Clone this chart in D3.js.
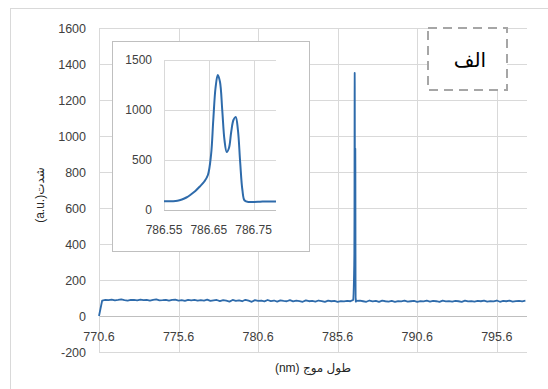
<!DOCTYPE html>
<html>
  <head>
    <meta charset="utf-8">
    <style>
      body {
        margin: 0;
        background: #fff;
      }
      text {
        font-family: "Liberation Sans", Arial, "DejaVu Sans", sans-serif;
        fill: #404040;
      }
    </style>
  </head>
  <body>
    <script src="https://d3js.org/d3.v7.min.js"></script>
    <script>
      var width = 548, height = 389;

      // main spectrum: baseline sampled every 0.2 nm from 770.6
      var baseStart = 770.6, baseStep = 0.2;
      var baseVals = [
        0, 86, 90, 88, 91, 87, 89, 92, 88, 86, 90, 89, 87, 91, 88, 90, 86, 89, 92, 87,
        88, 90, 85, 89, 91, 86, 88, 84, 90, 87, 89, 85, 88, 86, 91, 84, 87, 89, 83, 88,
        85, 80, 89, 84, 87, 82, 90, 85, 79, 88, 84, 86, 81, 89, 83, 86, 80, 87, 84, 82,
        88, 81, 85, 83, 79, 87, 82, 84, 80, 86, 83, 78, 85, 82, 84, 79, 83, 81, 84, 82,
        83, 80, 85, 82, 79, 86, 81, 84, 78, 85, 82, 80, 84, 79, 83, 81, 85, 80, 82, 84,
        79, 83, 81, 85, 80, 84, 82, 78, 85, 81, 83, 80, 84, 82, 79, 85, 81, 83, 80, 84,
        82, 85, 80, 83, 81, 86, 79, 84, 82, 85, 80, 83, 84, 81, 85
      ];

      // peak region (also shown in the inset)
      var peakWl = [
        786.55, 786.56, 786.57, 786.58, 786.59, 786.60, 786.61, 786.62, 786.63, 786.64,
        786.648, 786.655, 786.66, 786.665, 786.67, 786.675, 786.68, 786.685, 786.69, 786.695,
        786.70, 786.705, 786.71, 786.715, 786.72, 786.725, 786.73, 786.74, 786.75, 786.76,
        786.77, 786.78, 786.79, 786.80
      ];
      var peakVals = [
        88, 88, 88, 92, 105, 125, 155, 190, 235, 285,
        350, 550, 900, 1220, 1350, 1280, 1000, 700, 580, 620,
        780, 900, 930, 800, 480, 200, 95, 80, 80, 82,
        85, 86, 86, 84
      ];

      var mainYTicks = [-200, 0, 200, 400, 600, 800, 1000, 1200, 1400, 1600];
      var mainXTicks = [770.6, 775.6, 780.6, 785.6, 790.6, 795.6];
      var insetYTicks = [0, 500, 1000, 1500];
      var insetXTicks = [786.55, 786.65, 786.75];

      var lineColor = "#2e6bab", gridColor = "#d9d9d9", axisColor = "#bfbfbf";

      var mainData = [];
      baseVals.forEach(function(v, i){
        var wl = baseStart + baseStep * i;
        if (wl < peakWl[0] - 0.001 || wl > peakWl[peakWl.length - 1] + 0.001) mainData.push({ x: wl, y: v });
      });
      peakWl.forEach(function(w, i){ mainData.push({ x: w, y: peakVals[i] }); });
      mainData.sort(function(a, b){ return a.x - b.x; });

      var insetData = peakWl.map(function(w, i){ return { x: w, y: peakVals[i] }; });

      var svg = d3.select("body").append("svg")
          .attr("width", width)
          .attr("height", height);

      // chart border
      svg.append("rect")
          .attr("x", 10.5).attr("y", 8.5)
          .attr("width", 560).attr("height", 400)
          .attr("fill", "none")
          .attr("stroke", gridColor);

      // ---- main plot ----
      var x = d3.scaleLinear().domain([770.6, 797.5]).range([99, 527]);
      var y = d3.scaleLinear().domain([-200, 1600]).range([352, 28]);

      var main = svg.append("g");

      main.selectAll(".hgrid")
          .data(mainYTicks)
        .enter().append("line")
          .attr("x1", x.range()[0]).attr("x2", x.range()[1])
          .attr("y1", function(d){ return Math.round(y(d)) + .5; })
          .attr("y2", function(d){ return Math.round(y(d)) + .5; })
          .attr("stroke", function(d){ return d === 0 ? axisColor : gridColor; });

      main.selectAll(".vgrid")
          .data(mainXTicks)
        .enter().append("line")
          .attr("y1", y.range()[1]).attr("y2", y.range()[0])
          .attr("x1", function(d){ return Math.round(x(d)) + .5; })
          .attr("x2", function(d){ return Math.round(x(d)) + .5; })
          .attr("stroke", gridColor);

      main.selectAll(".ylab")
          .data(mainYTicks)
        .enter().append("text")
          .attr("x", 86)
          .attr("y", function(d){ return y(d); })
          .attr("dy", "0.36em")
          .attr("text-anchor", "end")
          .style("font-size", "12.5px")
          .text(function(d){ return d; });

      main.selectAll(".xlab")
          .data(mainXTicks)
        .enter().append("text")
          .attr("x", function(d){ return x(d); })
          .attr("y", 336)
          .attr("dy", "0.36em")
          .attr("text-anchor", "middle")
          .style("font-size", "12.5px")
          .text(function(d){ return d.toFixed(1); });

      var line = d3.line()
          .x(function(d){ return x(d.x); })
          .y(function(d){ return y(d.y); });

      main.append("path")
          .datum(mainData)
          .attr("d", line)
          .attr("fill", "none")
          .attr("stroke", lineColor)
          .attr("stroke-width", 1.8)
          .attr("stroke-linejoin", "round");

      svg.append("text")
          .attr("x", 313)
          .attr("y", 368)
          .attr("dy", "0.36em")
          .attr("text-anchor", "middle")
          .attr("direction", "rtl")
          .style("font-size", "12px")
          .style("fill", "#262626")
          .text("طول موج (nm)");

      svg.append("text")
          .attr("transform", "translate(40,195) rotate(-90)")
          .attr("dy", "0.36em")
          .attr("text-anchor", "middle")
          .style("font-size", "12px")
          .style("fill", "#262626")
          .text("(a.u.)شدت");

      // ---- inset ----
      svg.append("rect")
          .attr("x", 112.5).attr("y", 41.5)
          .attr("width", 197).attr("height", 210)
          .attr("fill", "#fff")
          .attr("stroke", axisColor);

      var ix = d3.scaleLinear().domain([786.55, 786.80]).range([164, 276]);
      var iy = d3.scaleLinear().domain([0, 1500]).range([210, 60]);

      var inset = svg.append("g");

      inset.selectAll(".ihgrid")
          .data(insetYTicks)
        .enter().append("line")
          .attr("x1", ix.range()[0]).attr("x2", ix.range()[1])
          .attr("y1", function(d){ return Math.round(iy(d)) + .5; })
          .attr("y2", function(d){ return Math.round(iy(d)) + .5; })
          .attr("stroke", function(d){ return d === 0 ? axisColor : gridColor; });

      inset.selectAll(".ivgrid")
          .data(insetXTicks)
        .enter().append("line")
          .attr("y1", iy.range()[1]).attr("y2", iy.range()[0])
          .attr("x1", function(d){ return Math.round(ix(d)) + .5; })
          .attr("x2", function(d){ return Math.round(ix(d)) + .5; })
          .attr("stroke", gridColor);

      inset.selectAll(".iylab")
          .data(insetYTicks)
        .enter().append("text")
          .attr("x", 152)
          .attr("y", function(d){ return iy(d); })
          .attr("dy", "0.36em")
          .attr("text-anchor", "end")
          .style("font-size", "12px")
          .text(function(d){ return d; });

      inset.selectAll(".ixlab")
          .data(insetXTicks)
        .enter().append("text")
          .attr("x", function(d){ return ix(d); })
          .attr("y", 230)
          .attr("dy", "0.36em")
          .attr("text-anchor", "middle")
          .style("font-size", "12px")
          .text(function(d){ return d.toFixed(2); });

      var iline = d3.line()
          .curve(d3.curveCatmullRom)
          .x(function(d){ return ix(d.x); })
          .y(function(d){ return iy(d.y); });

      inset.append("path")
          .datum(insetData)
          .attr("d", iline)
          .attr("fill", "none")
          .attr("stroke", lineColor)
          .attr("stroke-width", 2)
          .attr("stroke-linejoin", "round");

      // ---- label box ----
      svg.append("rect")
          .attr("x", 428).attr("y", 28)
          .attr("width", 79).attr("height", 62)
          .attr("fill", "#fff")
          .attr("stroke", "#a6a6a6")
          .attr("stroke-width", 2)
          .attr("stroke-dasharray", "9,6");

      svg.append("text")
          .attr("x", 470)
          .attr("y", 60)
          .attr("dy", "0.36em")
          .attr("text-anchor", "middle")
          .attr("direction", "rtl")
          .style("font-size", "20px")
          .style("fill", "#000")
          .text("الف");
    </script>
  </body>
</html>
